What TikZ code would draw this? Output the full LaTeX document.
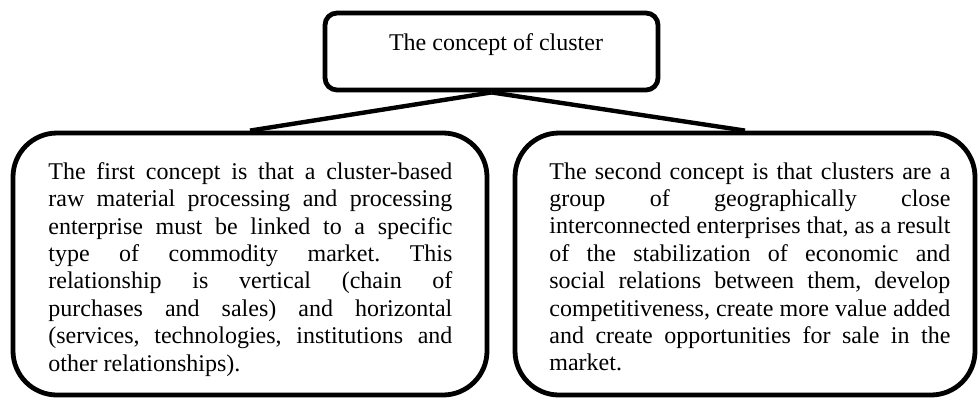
\documentclass[tikz,border=0pt]{standalone}
\usepackage{fontspec}
\setmainfont{Liberation Serif}
\frenchspacing
\begin{document}
\begin{tikzpicture}[x=0.5pt,y=-0.5pt,
  box/.style={draw=black, line width=2.4pt, inner sep=0pt},
  link/.style={draw=black, line width=2.2pt},
  txt/.style={inner sep=0pt, anchor=north west, align=justify, font=\fontsize{12}{13.7}\selectfont\frenchspacing}]
\useasboundingbox (0,0) rectangle (978,398);
\node[box, rounded corners=6pt, minimum width=166.5pt, minimum height=38.5pt] (top) at (491.5,51.5) {};
\node[inner sep=0pt, anchor=base, font=\fontsize{12}{13.7}\selectfont] (toptxt) at (496,50) {The concept of cluster};
\node[box, rounded corners=22pt, minimum width=237pt, minimum height=131pt] (left) at (250,264) {};
\node[box, rounded corners=22pt, minimum width=230pt, minimum height=131pt] (right) at (745,264) {};
\node[txt, text width=202pt] (lefttxt) at (48,162) {The first concept is that a cluster-based\linebreak raw material processing and processing\linebreak enterprise must be linked to a specific\linebreak type of commodity market. This\linebreak relationship is vertical (chain of\linebreak purchases and sales) and horizontal\linebreak (services, technologies, institutions and\linebreak other relationships).};
\node[txt, text width=200.5pt] (righttxt) at (549,162) {The second concept is that clusters are a\linebreak group of geographically close\linebreak interconnected enterprises that, as a result\linebreak of the stabilization of economic and\linebreak social relations between them, develop\linebreak competitiveness, create more value added\linebreak and create opportunities for sale in the\linebreak market.};
\draw[link] (top.south) -- (left.north);
\draw[link] (top.south) -- (right.north);
\end{tikzpicture}
\end{document}
